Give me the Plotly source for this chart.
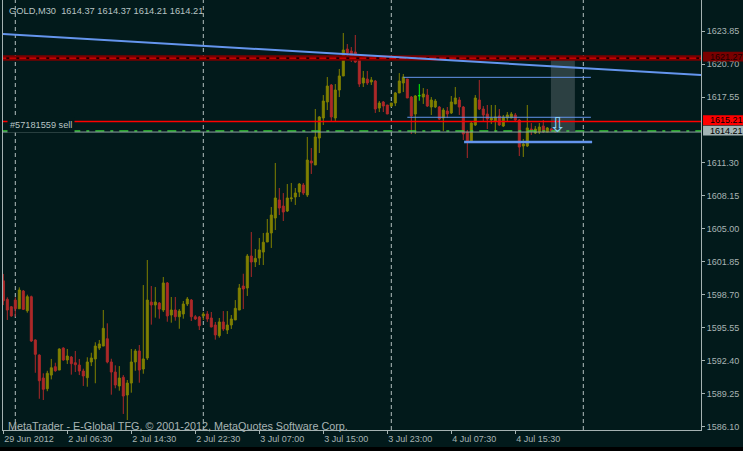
import plotly.graph_objects as go

# ---------------- data (GOLD, M30) ----------------
bar_open = [
    1600.02, 1598.25, 1597.54, 1598.18, 1597.35, 1599.04, 1597.16, 1598.50, 1594.37, 1592.93,
    1590.74, 1589.72, 1591.02, 1591.82, 1591.50, 1593.60, 1592.46, 1592.74, 1592.20, 1591.98,
    1591.41, 1590.77, 1592.27, 1592.56, 1593.60, 1593.79, 1594.49, 1592.27, 1591.31, 1589.98,
    1590.81, 1589.12, 1590.26, 1592.27, 1593.32, 1591.60, 1592.65, 1597.99, 1597.71, 1597.90,
    1597.23, 1599.81, 1596.75, 1597.23, 1596.59, 1596.85, 1597.80, 1598.18, 1596.59, 1596.56,
    1596.66, 1596.85, 1596.47, 1595.80, 1594.78, 1596.09, 1595.32, 1595.80, 1596.28, 1597.23,
    1599.52, 1599.33, 1602.38, 1601.81, 1602.19, 1602.76, 1603.72, 1604.58, 1606.01, 1607.73,
    1607.15, 1606.68, 1607.85, 1608.01, 1608.49, 1609.16, 1608.20, 1611.45, 1611.07, 1613.64,
    1615.55, 1617.08, 1618.70, 1615.55, 1618.22, 1619.56, 1622.13, 1621.94, 1621.85, 1621.09,
    1618.89, 1619.27, 1618.99, 1619.08, 1616.50, 1617.08, 1616.79, 1616.69, 1616.98, 1617.94,
    1618.89, 1619.27, 1617.55, 1615.93, 1617.68, 1617.55, 1617.74, 1616.60, 1616.60, 1616.60,
    1615.55, 1616.22, 1616.03, 1616.89, 1617.27, 1616.60, 1614.21, 1613.26, 1614.88, 1617.27,
    1616.41, 1615.93, 1615.36, 1615.26, 1615.74, 1614.79, 1615.55, 1615.55, 1615.84, 1615.36,
    1612.88, 1612.88, 1614.50, 1614.12, 1614.21, 1614.79, 1614.21, 1614.50, 1614.37,
]
bar_high = [
    1600.67, 1598.44, 1597.61, 1598.44, 1599.39, 1599.14, 1598.69, 1598.60, 1594.43, 1593.00,
    1591.19, 1591.43, 1592.56, 1592.20, 1593.57, 1593.67, 1593.51, 1592.84, 1593.32, 1592.56,
    1591.63, 1592.72, 1593.15, 1594.15, 1594.37, 1597.23, 1595.96, 1592.58, 1591.95, 1591.88,
    1591.02, 1590.55, 1593.51, 1593.51, 1593.89, 1599.61, 1602.00, 1599.52, 1599.42, 1597.99,
    1600.38, 1599.90, 1598.47, 1598.47, 1597.32, 1598.09, 1598.47, 1598.28, 1596.75, 1596.66,
    1597.04, 1597.13, 1597.04, 1596.09, 1596.47, 1597.13, 1597.13, 1596.75, 1598.18, 1599.71,
    1600.69, 1602.57, 1604.67, 1603.05, 1604.10, 1604.58, 1605.91, 1607.06, 1611.26, 1608.87,
    1608.39, 1609.25, 1609.35, 1608.87, 1609.35, 1609.35, 1613.74, 1612.69, 1616.41, 1615.74,
    1617.74, 1619.46, 1618.79, 1618.79, 1620.23, 1623.66, 1622.61, 1622.32, 1623.47, 1621.18,
    1620.04, 1620.04, 1619.46, 1619.18, 1617.17, 1617.17, 1616.79, 1616.98, 1618.03, 1619.84,
    1619.75, 1619.27, 1617.65, 1617.74, 1618.79, 1618.41, 1618.32, 1617.55, 1617.36, 1616.69,
    1616.50, 1616.60, 1617.65, 1618.51, 1617.55, 1616.69, 1614.41, 1615.26, 1617.74, 1619.18,
    1616.69, 1616.79, 1616.79, 1616.79, 1616.41, 1615.84, 1616.12, 1616.12, 1616.03, 1615.45,
    1613.55, 1616.79, 1615.07, 1614.79, 1615.07, 1615.36, 1614.69, 1614.60, 1614.37,
]
bar_low = [
    1597.70, 1596.28, 1596.59, 1596.59, 1597.35, 1597.23, 1596.97, 1594.18, 1591.24, 1588.76,
    1588.64, 1589.48, 1590.61, 1591.34, 1591.50, 1592.39, 1592.08, 1591.06, 1591.31, 1591.02,
    1589.98, 1589.91, 1591.88, 1590.24, 1593.41, 1593.79, 1592.14, 1589.15, 1589.76, 1589.53,
    1587.31, 1586.73, 1589.34, 1591.43, 1590.29, 1591.15, 1592.46, 1595.83, 1596.50, 1596.40,
    1597.04, 1596.11, 1596.02, 1596.21, 1595.44, 1596.40, 1597.61, 1596.18, 1596.28, 1595.32,
    1596.28, 1596.09, 1595.58, 1594.40, 1594.59, 1595.23, 1594.94, 1595.42, 1596.28, 1597.23,
    1597.32, 1598.57, 1600.38, 1601.33, 1601.52, 1601.52, 1603.72, 1603.15, 1604.86, 1606.29,
    1605.72, 1606.58, 1607.56, 1607.25, 1608.01, 1608.20, 1608.01, 1610.21, 1611.07, 1612.21,
    1614.88, 1616.31, 1615.17, 1615.26, 1617.55, 1619.56, 1621.27, 1620.89, 1620.80, 1618.51,
    1618.51, 1618.70, 1618.70, 1616.03, 1616.12, 1616.12, 1615.93, 1616.60, 1616.69, 1617.94,
    1618.03, 1617.46, 1614.02, 1614.02, 1617.20, 1616.89, 1616.60, 1615.84, 1616.50, 1615.36,
    1614.31, 1615.55, 1615.93, 1616.89, 1615.84, 1613.45, 1611.73, 1613.17, 1614.79, 1616.31,
    1615.26, 1614.50, 1614.98, 1614.21, 1614.79, 1614.69, 1615.26, 1615.55, 1615.26, 1611.92,
    1611.83, 1612.78, 1613.93, 1614.02, 1614.02, 1614.12, 1614.21, 1614.31, 1614.21,
]
bar_close = [
    1598.11, 1597.23, 1596.66, 1597.35, 1599.14, 1597.29, 1598.50, 1594.27, 1593.00, 1590.48,
    1589.66, 1591.19, 1591.72, 1591.43, 1593.51, 1592.46, 1592.84, 1592.11, 1592.01, 1591.41,
    1590.93, 1592.27, 1592.65, 1593.79, 1593.99, 1595.48, 1592.27, 1591.31, 1590.07, 1590.74,
    1589.02, 1590.26, 1592.27, 1593.32, 1591.50, 1592.56, 1598.18, 1597.71, 1597.99, 1597.32,
    1599.81, 1596.66, 1597.23, 1596.59, 1597.13, 1597.80, 1598.28, 1596.59, 1596.37, 1595.73,
    1596.85, 1596.37, 1595.61, 1594.85, 1596.09, 1595.42, 1595.80, 1596.37, 1597.39, 1599.33,
    1599.23, 1602.38, 1601.81, 1602.16, 1602.96, 1603.69, 1604.58, 1606.29, 1607.92, 1606.96,
    1606.58, 1607.92, 1607.92, 1608.39, 1609.25, 1608.39, 1611.54, 1611.26, 1613.74, 1615.65,
    1617.17, 1618.60, 1615.65, 1618.22, 1619.56, 1622.04, 1621.75, 1621.47, 1620.89, 1618.79,
    1619.37, 1618.89, 1619.18, 1616.41, 1616.98, 1616.69, 1615.93, 1616.98, 1617.94, 1619.08,
    1619.46, 1617.46, 1615.74, 1617.65, 1617.68, 1617.84, 1616.69, 1617.27, 1617.17, 1615.45,
    1616.31, 1615.93, 1617.08, 1617.46, 1616.60, 1614.02, 1613.26, 1615.07, 1617.46, 1616.41,
    1615.84, 1615.45, 1615.55, 1615.65, 1614.88, 1615.65, 1615.84, 1615.93, 1615.36, 1612.78,
    1613.07, 1614.60, 1614.31, 1614.50, 1614.69, 1614.21, 1614.60, 1614.31, 1614.21,
]

time_tick_index = [0, 16, 32, 48, 64, 80, 96, 112, 128]
time_tick_text = ["29 Jun 2012", "2 Jul 06:30", "2 Jul 14:30", "2 Jul 22:30", "3 Jul 07:00",
                  "3 Jul 15:00", "3 Jul 23:00", "4 Jul 07:30", "4 Jul 15:30"]
day_separator_index = [3, 50, 97, 145]

price_tick_values = [1623.85, 1620.70, 1617.55, 1611.30, 1608.15, 1605.00, 1601.85,
                     1598.70, 1595.55, 1592.40, 1589.25, 1586.10]
price_tick_text = ["1623.85", "1620.70", "1617.55", "1611.30", "1608.15", "1605.00", "1601.85",
                   "1598.70", "1595.55", "1592.40", "1589.25", "1586.10"]

stop_level = 1621.27
red_level = 1615.21
bid_level = 1614.21
order_level = 1614.30
order_label = "#57181559 sell"

trend_x = [-1, 175]
trend_y = [1623.58, 1619.64]
channel_top_x = [100, 146.9]
channel_top_y = [1619.43, 1619.43]
channel_mid_x = [101, 146.9]
channel_mid_y = [1615.62, 1615.62]
channel_low_x = [115.2, 147.2]
channel_low_y = [1613.26, 1613.26]
shade_x = [136.9, 142.9]
shade_y = [1614.31, 1621.15]
sell_arrow_x = 138.55
sell_arrow_y = 1614.88

title_text = "GOLD,M30  1614.37 1614.37 1614.21 1614.21"
copyright_text = "MetaTrader - E-Global TFG, \u00a9 2001-2012, MetaQuotes Software Corp."

# ---------------- style ----------------
BG = "#021a1b"
GRID = "#a4b2b2"
TXT = "#a8b4b4"
BULL = "#808000"
BEAR = "#ad2828"
FONT = "Liberation Sans, Arial, sans-serif"

n = len(bar_open)
bar_index = list(range(n))
doji = [i for i in bar_index if bar_open[i] == bar_close[i]]
main = [i for i in bar_index if i not in doji]

fig = go.Figure()

fig.add_trace(go.Candlestick(
    x=[bar_index[i] for i in main],
    open=[bar_open[i] for i in main], high=[bar_high[i] for i in main],
    low=[bar_low[i] for i in main], close=[bar_close[i] for i in main],
    increasing=dict(line=dict(color=BULL, width=1), fillcolor=BULL),
    decreasing=dict(line=dict(color=BEAR, width=1), fillcolor=BEAR),
    whiskerwidth=0, hoverinfo="skip", showlegend=False,
))
if doji:
    fig.add_trace(go.Candlestick(
        x=[bar_index[i] for i in doji],
        open=[bar_open[i] for i in doji], high=[bar_high[i] for i in doji],
        low=[bar_low[i] for i in doji], close=[bar_close[i] for i in doji],
        increasing=dict(line=dict(color="#00ff00", width=1), fillcolor="#00ff00"),
        decreasing=dict(line=dict(color="#00ff00", width=1), fillcolor="#00ff00"),
        whiskerwidth=0, hoverinfo="skip", showlegend=False,
    ))

full_x = [-1, 176]


def hline(level, color, width, dash="solid"):
    fig.add_trace(go.Scatter(x=full_x, y=[level, level], mode="lines",
                             line=dict(color=color, width=width, dash=dash),
                             hoverinfo="skip", showlegend=False))


hline(stop_level, "#7a0000", 5.5)
hline(stop_level, "#000000", 1.3)
hline(stop_level, "#ff0000", 1.3, "7px,3px")
hline(red_level, "#ff0000", 1.4)
hline(order_level, "#32cd32", 1.5, "9px,6px,3px,6px")
hline(bid_level, "#8fa3a3", 1)

for xs, ys, w in [(trend_x, trend_y, 2), (channel_top_x, channel_top_y, 1),
                  (channel_mid_x, channel_mid_y, 1), (channel_low_x, channel_low_y, 2.5)]:
    fig.add_trace(go.Scatter(x=xs, y=ys, mode="lines",
                             line=dict(color="#6495ed", width=w),
                             hoverinfo="skip", showlegend=False))

shapes = []
shapes.append(dict(type="rect", xref="x", yref="y", x0=shade_x[0], x1=shade_x[1],
                   y0=shade_y[0], y1=shade_y[1], fillcolor="#2c4042",
                   line=dict(width=0), layer="below"))
for k in day_separator_index:
    shapes.append(dict(type="line", xref="x", yref="paper", x0=k, x1=k, y0=0, y1=1,
                       line=dict(color="#b4c0c0", width=1, dash="4px,3px"), layer="below"))

# right-side price labels
annotations = []
for level, bg, fg in [(stop_level, "#7a0000", "#1a0000"), (red_level, "#ff0000", "#000000"),
                      (bid_level, "#a3b5b5", "#000000")]:
    shapes.append(dict(type="rect", xref="paper", yref="y", x0=1.0029, x1=1.0602,
                       y0=level + 0.13 - 0.47, y1=level + 0.13 + 0.47,
                       fillcolor=bg, line=dict(width=0), layer="above"))
    annotations.append(dict(xref="paper", yref="y", x=1.0096, y=level + 0.13,
                            text=f"{level:.2f}", showarrow=False, xanchor="left",
                            yanchor="middle", font=dict(family=FONT, size=9, color=fg)))

# bottom black strip
shapes.append(dict(type="rect", xref="paper", yref="paper", x0=-0.01, x1=1.07,
                   y0=-0.0488, y1=-0.0395, fillcolor="#000000", line=dict(width=0),
                   layer="below"))

annotations.append(dict(xref="paper", yref="paper", x=0, y=1, xshift=3.5, yshift=-10.5,
                        text=title_text.replace("  ", "&nbsp;&nbsp;"), showarrow=False,
                        xanchor="left", yanchor="middle",
                        font=dict(family=FONT, size=9.3, color="#b8c4c4")))
annotations.append(dict(xref="paper", yref="paper", x=0, y=0, xshift=2.5, yshift=4,
                        text=copyright_text, showarrow=False, xanchor="left",
                        yanchor="middle", font=dict(family=FONT, size=10.8, color=TXT)))
annotations.append(dict(xref="paper", yref="y", x=0, y=red_level, xshift=4, yshift=-3.0,
                        text=order_label, showarrow=False, xanchor="left", yanchor="middle",
                        bgcolor=BG, borderpad=2,
                        font=dict(family=FONT, size=9.2, color="#b8c4c4")))
annotations.append(dict(xref="x", yref="y", x=sell_arrow_x, y=sell_arrow_y, text="\u21e9",
                        showarrow=False, xanchor="center", yanchor="middle",
                        font=dict(family="DejaVu Sans", size=21, color="#87cefa")))

fig.update_layout(
    width=743, height=451,
    margin=dict(l=3, r=42, t=0, b=21, autoexpand=False),
    paper_bgcolor=BG, plot_bgcolor=BG,
    showlegend=False,
    boxgap=0.5, boxgroupgap=0,
    font=dict(family=FONT, size=9, color=TXT),
    shapes=shapes, annotations=annotations,
    xaxis=dict(range=[-0.075, 174.425], tickmode="array", tickvals=time_tick_index,
               ticktext=time_tick_text, ticks="outside", ticklen=3, tickcolor=GRID,
               showline=True, linecolor=GRID, linewidth=1, showgrid=False, zeroline=False,
               ticklabelposition="outside right", rangeslider=dict(visible=False),
               tickangle=0, automargin=False,
               tickfont=dict(family=FONT, size=9, color=TXT), fixedrange=True),
    yaxis=dict(range=[1585.78, 1626.81], side="right", tickmode="array",
               tickvals=price_tick_values, ticktext=price_tick_text, ticks="outside",
               ticklen=3, tickcolor=GRID, showline=True, mirror=True, linecolor=GRID,
               linewidth=1, showgrid=False, zeroline=False, automargin=False,
               tickfont=dict(family=FONT, size=9, color=TXT), fixedrange=True),
)

fig.write_html("out.html", config={"displayModeBar": False},
               post_script="document.body.style.margin='0';document.body.style.background='#021a1b';")
